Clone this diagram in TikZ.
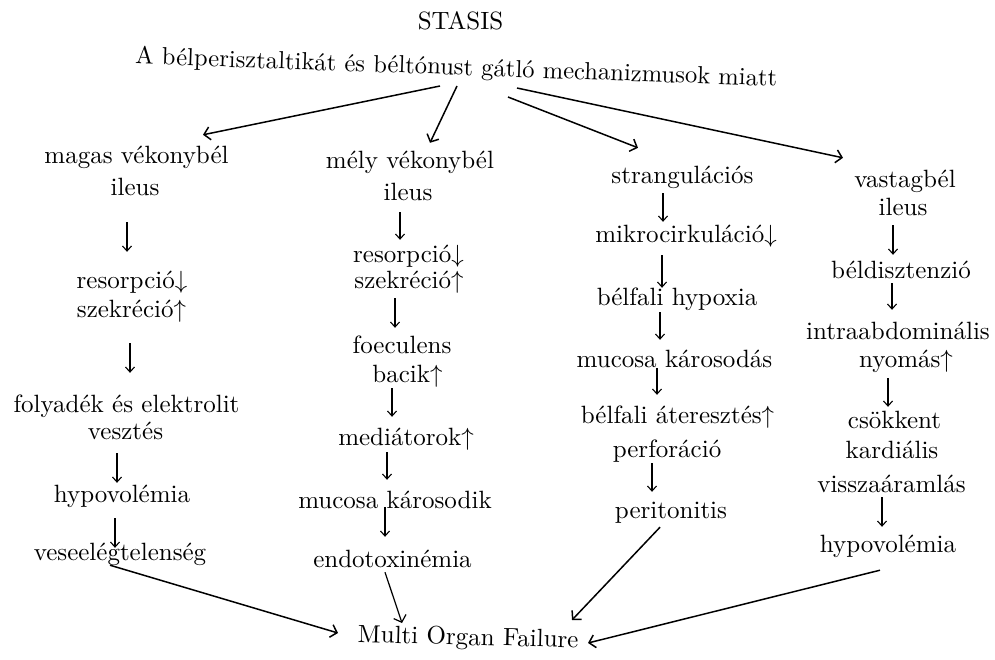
\documentclass[tikz,border=0pt]{standalone}
\usepackage{fontspec}
\setmainfont{lmroman10-regular.otf}
\usetikzlibrary{arrows.meta}
\tikzset{
  txt/.style={inner sep=0pt, text height=17pt, text depth=6pt, anchor=base, font=\fontsize{25}{30}\selectfont},
  big/.style={line width=1.5pt, -{Straight Barb[length=6pt,width=13pt]}},
  dn/.style={line width=1.1pt, -{Straight Barb[length=5pt,width=9pt]}}
}
\begin{document}
\begin{tikzpicture}[x=1pt,y=-1pt]
\useasboundingbox[fill=white] (0,0) rectangle (995,659);
% title
\node[txt] (stasis) at (460.5,29) {STASIS};
\node[txt, rotate=-2, font=\fontsize{24.6}{30}\selectfont] (sub) at (456,75) {A bélperisztaltikát és béltónust gátló mechanizmusok miatt};
% column 1
\node[txt] (m1) at (136.5,163) {magas vékonybél};
\node[txt] (m2) at (135,195) {ileus};
\node[txt] (ares) at (132,288) {resorpció$\downarrow$};
\node[txt] (asz) at (131.5,317) {szekréció$\uparrow$};
\node[txt] (afo) at (126.5,412) {folyadék és elektrolit};
\node[txt] (ave) at (125.5,439) {vesztés};
\node[txt] (ahy) at (122,502) {hypovolémia};
\node[txt] (avs) at (120,560) {veseelégtelenség};
% column 2
\node[txt] (bh1) at (410,168) {mély vékonybél};
\node[txt] (bh2) at (408,200) {ileus};
\node[txt] (bres) at (408.5,262) {resorpció$\downarrow$};
\node[txt] (bsz) at (409,288) {szekréció$\uparrow$};
\node[txt] (bfoe) at (402,353) {foeculens};
\node[txt] (bbac) at (407.5,382) {bacik$\uparrow$};
\node[txt] (bmed) at (406,445) {mediátorok$\uparrow$};
\node[txt] (bmuc) at (395,508) {mucosa károsodik};
\node[txt] (bend) at (392.5,567) {endotoxinémia};
% column 3
\node[txt] (cstr) at (682.5,183) {strangulációs};
\node[txt] (cmik) at (686,242) {mikrocirkuláció$\downarrow$};
\node[txt] (chyp) at (677,305) {bélfali hypoxia};
\node[txt] (cmuc) at (674.5,367) {mucosa károsodás};
\node[txt] (cate) at (677.5,423) {bélfali áteresztés$\uparrow$};
\node[txt] (cper) at (667,457) {perforáció};
\node[txt] (cpet) at (671,518) {peritonitis};
% column 4
\node[txt] (dh1) at (905,187) {vastagbél};
\node[txt] (dh2) at (903,215) {ileus};
\node[txt] (dbel) at (901,278) {béldisztenzió};
\node[txt] (dint) at (898,339) {intraabdominális};
\node[txt] (dnyo) at (906,367) {nyomás$\uparrow$};
\node[txt] (dcso) at (894.5,428) {csökkent};
\node[txt] (dkar) at (892,458) {kardiális};
\node[txt] (dvis) at (891.5,492) {visszaáramlás};
\node[txt] (dhyp) at (888,552) {hypovolémia};
% bottom
\node[txt, rotate=-1.5] (mof) at (468,645) {Multi Organ Failure};
% header arrows
\draw[big] ([shift={(-16,11)}]sub.base) -- ([shift={(66.5,-11)}]m1.north);
\draw[big] ([shift={(1,11)}]sub.base) -- ([shift={(20,-8)}]bh1.north);
\draw[big] ([shift={(52,22)}]sub.base) -- ([shift={(-44.5,-18)}]cstr.north);
\draw[big] ([shift={(61,13)}]sub.base) -- ([shift={(-62,-12)}]dh1.north);
% column 1 arrows
\draw[dn] ([shift={(-8,21)}]m2.south) -- ([shift={(-5,-19)}]ares.north);
\draw[dn] ([shift={(-1.5,20)}]asz.south) -- ([shift={(3.5,-22)}]afo.north);
\draw[dn] ([shift={(-8.5,8)}]ave.south) -- ([shift={(-5,-2)}]ahy.north);
\draw[dn] ([shift={(-7,10)}]ahy.south) -- ([shift={(-5,5)}]avs.north);
% column 2 arrows
\draw[dn] ([shift={(-8,6)}]bh2.south) -- ([shift={(-8.5,-5)}]bres.north);
\draw[dn] ([shift={(-14,4)}]bsz.south) -- ([shift={(-7,-8)}]bfoe.north);
\draw[dn] ([shift={(-15.5,0)}]bbac.south) -- ([shift={(-14,-11)}]bmed.north);
\draw[dn] ([shift={(-19,1)}]bmed.south) -- ([shift={(-8,-11)}]bmuc.north);
\draw[dn] ([shift={(-10,-7)}]bmuc.south) -- ([shift={(-7.5,-13)}]bend.north);
% column 3 arrows
\draw[dn] ([shift={(-19.5,4)}]cstr.south) -- ([shift={(-23,-3)}]cmik.north);
\draw[dn] ([shift={(-24,7)}]cmik.south) -- ([shift={(-15,0)}]chyp.north);
\draw[dn] ([shift={(-17,1)}]chyp.south) -- ([shift={(-14.5,-10)}]cmuc.north);
\draw[dn] ([shift={(-17.5,-5)}]cmuc.south) -- ([shift={(-20.5,-11)}]cate.north);
\draw[dn] ([shift={(-15,0)}]cper.south) -- ([shift={(-19,-9)}]cpet.north);
% column 4 arrows
\draw[dn] ([shift={(-10,4)}]dh2.south) -- ([shift={(-8,-6)}]dbel.north);
\draw[dn] ([shift={(-9,-1)}]dbel.south) -- ([shift={(-6,-12)}]dint.north);
\draw[dn] ([shift={(-18,5)}]dnyo.south) -- ([shift={(-6.5,-4)}]dcso.north);
\draw[dn] ([shift={(-9.5,-1)}]dvis.south) -- ([shift={(-6,-8)}]dhyp.north);
% bottom arrows
\draw[big] ([shift={(-10,-1)}]avs.south) -- ([shift={(-130,-12)}]mof.base);
\draw[big, line width=1.2pt] ([shift={(-7.5,-1)}]bend.south) -- ([shift={(-66,-22)}]mof.base);
\draw[big] ([shift={(-11,3)}]cpet.south) -- ([shift={(104,-25)}]mof.base);
\draw[big] ([shift={(-8,12)}]dhyp.south) -- ([shift={(120,-2)}]mof.base);
\end{tikzpicture}
\end{document}
